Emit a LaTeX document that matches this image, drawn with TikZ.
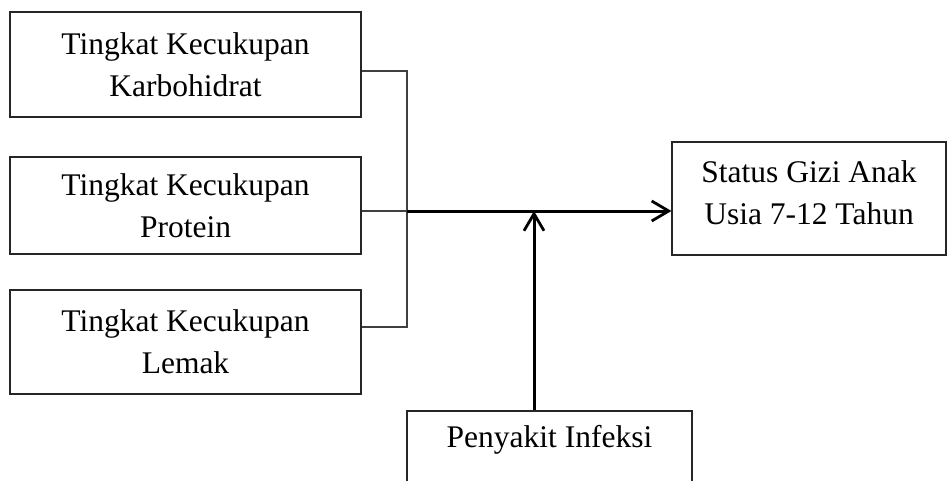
\documentclass[tikz,border=0pt]{standalone}
\usepackage{fontspec}
\setmainfont{Liberation Serif}
\usepackage{tikz}
\usetikzlibrary{calc}
\usetikzlibrary{positioning}
\usetikzlibrary{arrows.meta}

\begin{document}
\begin{tikzpicture}[x=1pt, y=-1pt,
        box/.style={draw=black!85, line width=1.1pt, rectangle, inner sep=0pt, align=center,
            font=\fontsize{31.5}{42}\selectfont},
        thinline/.style={draw=black!75, line width=1.2pt},
        thickarrow/.style={line width=3pt, -{Straight Barb[length=17pt, width=20pt, line width=2.8pt]}}]
        \useasboundingbox (0,0) rectangle (947,481);

        % Define nodes
        \node[box, minimum width=351pt, minimum height=105pt] (karbo) at (185.5, 64.5) {Tingkat Kecukupan\\Karbohidrat};
        \node[box, minimum width=351pt, minimum height=97pt] (protein) at (185.5, 205.5) {Tingkat Kecukupan\\Protein};
        \node[box, minimum width=351pt, minimum height=104pt] (lemak) at (185.5, 342) {Tingkat Kecukupan\\Lemak};
        \node[box, minimum width=274pt, minimum height=113pt] (status) at (809, 198.5) {Status Gizi Anak\\Usia 7-12 Tahun\\[-30pt]\mbox{}};
        \node[box, minimum width=285pt, minimum height=102pt] (infeksi) at (549.5, 462) {Penyakit Infeksi\\[-4pt]\strut};

        % Junctions
        \coordinate (join) at (407, 211);
        \coordinate (meet) at (534, 211);

        % Draw edges
        \draw[thinline] ([yshift=-6.5pt]karbo.east) -| (join) |- ([yshift=15pt]lemak.east);
        \draw[thinline] ([yshift=-5.5pt]protein.east) -- (join);
        \draw[thickarrow] (join) -- (status.west |- join);
        \draw[thickarrow] (infeksi.north -| meet) -- (meet);
\end{tikzpicture}
\end{document}
